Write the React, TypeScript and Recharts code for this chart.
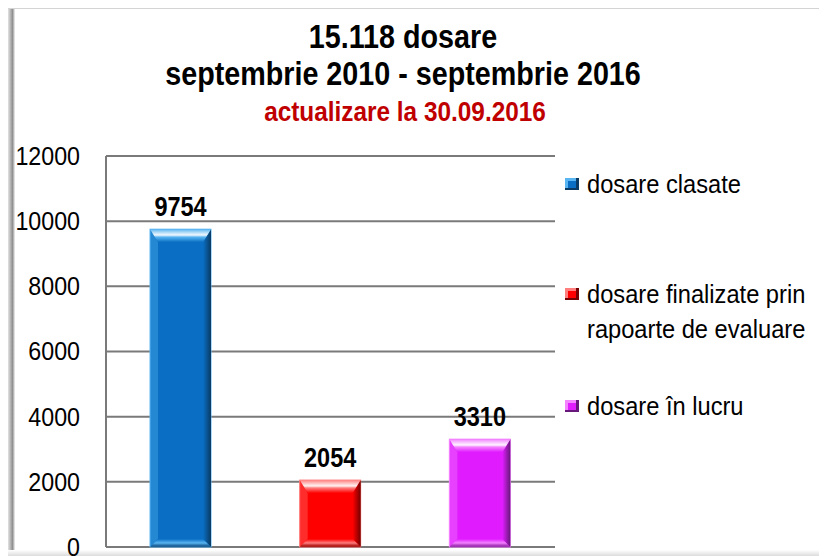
import React from "react";
import { BarChart, Bar, XAxis, YAxis, CartesianGrid, Cell, LabelList } from "recharts";

const categories = ["dosare clasate", "dosare finalizate prin rapoarte de evaluare", "dosare în lucru"];
const counts = [9754, 2054, 3310];
const yTicks = [0, 2000, 4000, 6000, 8000, 10000, 12000];
const titleMain = ["15.118 dosare", "septembrie 2010 - septembrie 2016"];
const titleSub = "actualizare la 30.09.2016";
const legendLines = [["dosare clasate"], ["dosare finalizate prin", "rapoarte de evaluare"], ["dosare în lucru"]];

const palettes = [
  { base: "#0a6fc4", light: "#5ab6f2", dark: "#0a3a63" },
  { base: "#ff0000", light: "#ff7f7f", dark: "#720000" },
  { base: "#e01cff", light: "#f383ff", dark: "#66197a" },
];

const data = categories.map((name, i) => ({ name, value: counts[i] }));

// Arial-metric font, squeezed to look like Arial Narrow
const FONT = '"Liberation Sans", Arial, sans-serif';

function BevelBar(props: any) {
  const { x, y, width: w, height: h, index } = props;
  const p = palettes[index % palettes.length];
  const bt = Math.min(13, h / 3);
  const bs = 8;
  const bb = Math.min(8, h / 4);
  return (
    <g>
      <defs>
        <linearGradient id={`bt-${index}`} x1="0" y1="0" x2="0" y2="1">
          <stop offset="0" stopColor={p.light} />
          <stop offset="0.45" stopColor="#ffffff" stopOpacity={0.95} />
          <stop offset="0.6" stopColor={p.light} />
          <stop offset="1" stopColor={p.base} />
        </linearGradient>
        <linearGradient id={`br-${index}`} x1="0" y1="0" x2="1" y2="0">
          <stop offset="0" stopColor={p.base} />
          <stop offset="1" stopColor={p.dark} />
        </linearGradient>
        <linearGradient id={`bb-${index}`} x1="0" y1="0" x2="0" y2="1">
          <stop offset="0" stopColor={p.base} />
          <stop offset="0.5" stopColor={p.light} />
          <stop offset="1" stopColor={p.dark} stopOpacity={0.6} />
        </linearGradient>
      </defs>
      <rect x={x} y={y} width={w} height={h} fill={p.base} stroke={p.light} strokeWidth={1} />
      <polygon
        points={`${x},${y} ${x + bs},${y + bt} ${x + bs},${y + h - bb} ${x},${y + h}`}
        fill={p.light}
        opacity={0.35}
      />
      <polygon
        points={`${x + w},${y} ${x + w},${y + h} ${x + w - bs},${y + h - bb} ${x + w - bs},${y + bt}`}
        fill={`url(#br-${index})`}
      />
      <polygon
        points={`${x},${y} ${x + w},${y} ${x + w - bs},${y + bt} ${x + bs},${y + bt}`}
        fill={`url(#bt-${index})`}
      />
      <polygon
        points={`${x},${y + h} ${x + w},${y + h} ${x + w - bs},${y + h - bb} ${x + bs},${y + h - bb}`}
        fill={`url(#bb-${index})`}
      />
    </g>
  );
}

function ValueLabel(props: any) {
  const { x, y, width, value } = props;
  return (
    <g transform={`translate(${x + width / 2},${y - 13})`}>
      <text
        transform="scale(0.87,1)"
        textAnchor="middle"
        fontFamily={FONT}
        fontWeight="bold"
        fontSize={27}
        fill="#000"
      >
        {value}
      </text>
    </g>
  );
}

function YTick(props: any) {
  const { x, y, payload } = props;
  return (
    <g transform={`translate(${x},${y})`}>
      <text transform="scale(0.93,1)" textAnchor="end" dy="0.355em" fontFamily={FONT} fontSize={25} fill="#000">
        {payload.value}
      </text>
    </g>
  );
}

export default function App() {
  return (
    <div
      style={{
        position: "relative",
        width: 819,
        height: 548,
        background: "#fff",
        borderTop: "1px solid #d4d4d4",
        boxSizing: "border-box",
        fontFamily: FONT,
      }}
    >
      <div
        style={{
          position: "absolute",
          left: 0,
          top: 0,
          width: 7,
          height: 548,
          background: "linear-gradient(to right, #e4e4e4, #8f8f8f 65%, #f4f4f4)",
        }}
      />
      <div
        style={{
          position: "absolute",
          left: 0,
          top: 541,
          width: 819,
          height: 7,
          background: "linear-gradient(to bottom, #ffffff, #d6d6d6)",
        }}
      />
      <div style={{ position: "absolute", left: 817, top: 0, width: 1, height: 548, background: "#e8e8e8" }} />

      {titleMain.map((line, i) => (
        <div
          key={line}
          style={{
            position: "absolute",
            left: 395,
            top: 11 + i * 37,
            transform: "translateX(-50%) scaleX(0.87)",
            whiteSpace: "nowrap",
            fontSize: 33,
            lineHeight: "33px",
            fontWeight: "bold",
            color: "#000",
          }}
        >
          {line}
        </div>
      ))}
      <div
        style={{
          position: "absolute",
          left: 397,
          top: 89,
          transform: "translateX(-50%) scaleX(0.87)",
          whiteSpace: "nowrap",
          fontSize: 28,
          lineHeight: "28px",
          fontWeight: "bold",
          color: "#c00000",
        }}
      >
        {titleSub}
      </div>

      <div style={{ position: "absolute", left: 0, top: 0 }}>
        <BarChart
          width={819}
          height={548}
          data={data}
          margin={{ top: 147, right: 272, bottom: 10, left: 0 }}
          barSize={61}
        >
          <CartesianGrid vertical={false} stroke="#7a7a7a" strokeWidth={2} />
          <XAxis dataKey="name" hide />
          <YAxis
            width={98}
            domain={[0, 12000]}
            ticks={yTicks}
            interval={0}
            tickLine={false}
            tickSize={0}
            tickMargin={26}
            axisLine={{ stroke: "#7a7a7a", strokeWidth: 2 }}
            tick={YTick}
          />
          <Bar dataKey="value" isAnimationActive={false} shape={BevelBar}>
            {data.map((d, i) => (
              <Cell key={d.name} fill={palettes[i].base} />
            ))}
            <LabelList dataKey="value" content={ValueLabel} />
          </Bar>
        </BarChart>
      </div>

      <div style={{ position: "absolute", left: 557, top: 0 }}>
        {legendLines.map((lines, i) => {
          const p = palettes[i];
          const tops = [158, 268, 380];
          return (
            <div key={i} style={{ position: "absolute", left: 0, top: tops[i], width: 260 }}>
              <div
                style={{
                  position: "absolute",
                  left: 0,
                  top: 11,
                  width: 14,
                  height: 12,
                  background: p.base,
                  boxShadow: `inset -3px -2px 0 ${p.dark}, inset 3px 3px 0 ${p.light}`,
                }}
              />
              <div
                style={{
                  position: "absolute",
                  left: 22,
                  top: 0,
                  fontSize: 26,
                  lineHeight: "35px",
                  color: "#000",
                  whiteSpace: "nowrap",
                  transform: "scaleX(0.91)",
                  transformOrigin: "left center",
                }}
              >
                {lines.map((l) => (
                  <div key={l}>{l}</div>
                ))}
              </div>
            </div>
          );
        })}
      </div>
    </div>
  );
}
